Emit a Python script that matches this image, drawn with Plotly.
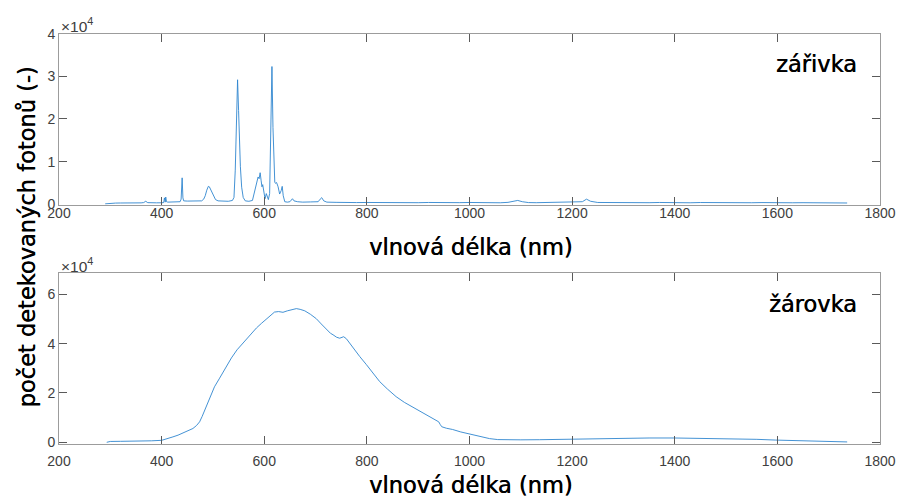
import plotly.graph_objects as go

# ---- data: fluorescent lamp (zářivka) ----
zar_nm = [290, 300, 310, 320, 330, 340, 350, 360, 365, 369, 373, 380, 390, 400, 404,
          405.5, 407, 408, 409.5, 412, 420, 430, 436, 438, 440, 441.5, 443, 450, 460,
          470, 478, 482, 485, 488, 491, 493, 496, 499, 502, 505, 510, 520, 530, 538,
          541, 543.5, 546, 548, 550, 551.5, 553.5, 556, 559, 563, 570, 577, 580, 583,
          586, 588, 590, 592, 594, 595.5, 597, 599, 601.5, 604, 606, 608, 610.5, 612.5,
          615, 617, 619, 620.5, 622, 624, 627, 630, 633, 635, 637, 640, 645, 650, 655,
          658, 665, 675, 690, 705, 709, 712, 716, 722, 740, 760, 780, 800, 820, 840,
          860, 880, 900, 920, 940, 960, 980, 1000, 1020, 1040, 1060, 1075, 1085, 1094,
          1103, 1115, 1130, 1150, 1170, 1185, 1195, 1210, 1220, 1228, 1236, 1250, 1270,
          1290, 1310, 1330, 1350, 1370, 1390, 1410, 1430, 1450, 1470, 1490, 1510, 1530,
          1550, 1570, 1590, 1610, 1630, 1650, 1670, 1690, 1710, 1736]
zar_val = [100, 250, 280, 300, 270, 310, 290, 330, 400, 700, 380, 320, 340, 350, 400,
           1500, 500, 1700, 600, 500, 520, 550, 600, 1200, 6200, 1500, 800, 750, 720,
           760, 800, 1200, 2000, 3300, 4200, 4100, 3300, 2500, 1800, 1100, 800, 700, 700, 900,
           1600, 8000, 22000, 29200, 22000, 16000, 8800, 4000, 1600, 800, 700, 900, 2500, 4500,
           5800, 6400, 6000, 7400, 5500, 4100, 4600, 3000, 1300, 2500, 1800, 1100, 2500, 17000,
           32300, 18000, 7500, 5200, 4900, 5100, 4100, 2400, 3200, 4200, 2000, 600, 500, 600, 1300,
           800, 600, 500, 550, 600, 1200, 1550, 800, 500, 450, 500, 400, 420, 380, 430,
           360, 410, 370, 420, 350, 400, 380, 420, 360, 400, 350, 450, 600, 900,
           600, 400, 370, 420, 380, 550, 600, 500, 600, 1200, 700, 420, 380,
           410, 350, 400, 370, 420, 360, 390, 350, 410, 370, 400, 350, 390,
           360, 400, 340, 380, 350, 370, 330, 360, 320, 300]

# ---- data: incandescent bulb (žárovka) ----
zas_nm = [293, 300, 320, 340, 360, 380, 400, 410, 422, 432, 442, 452, 461, 468, 474, 479,
          484, 489, 494, 503, 513, 524, 536, 547, 559, 572, 585, 595, 604, 612, 620, 628,
          636.5, 645, 655, 662.6, 670, 679, 690, 701.5, 711, 721, 729, 734, 741, 747,
          754.7, 760, 766, 776, 786, 799, 812, 825, 840, 857, 873, 890, 906, 922, 933,
          940, 943, 946, 955, 967, 983, 1000, 1020, 1039, 1055, 1071, 1100, 1136, 1170,
          1201, 1215, 1233, 1260, 1300, 1350, 1400, 1450, 1500, 1531, 1560, 1597, 1640,
          1680, 1710, 1736]
zas_val = [0, 350, 400, 420, 450, 600, 800, 1300, 2200, 2900, 3800, 4600, 5600, 6800, 8300, 10500,
           13000, 15800, 18500, 22500, 26000, 30000, 34200, 37500, 40300, 43500, 46400, 48300,
           49800, 51500, 52800, 53000, 52700, 53300, 53900, 54200, 53900, 53300, 51900, 50100,
           48000, 45700, 44200, 43600, 42600, 42200, 42800, 42000, 40300, 37600, 34800, 31500,
           27800, 24600, 21600, 18500, 16200, 14200, 12400, 10600, 9300, 8300, 7200, 6300,
           5700, 5200, 4200, 3300, 2300, 1500, 1100, 1000, 1000, 1050, 1150, 1250, 1500, 1600,
           1650, 1700, 1750, 1750, 1650, 1550, 1450, 1200, 900, 650, 450, 300, 150]

x_ticks = [200, 400, 600, 800, 1000, 1200, 1400, 1600, 1800]
top_yticks = [0, 10000, 20000, 30000, 40000]
top_ytext = ["0", "1", "2", "3", "4"]
bot_yticks = [0, 20000, 40000, 60000]
bot_ytext = ["0", "2", "4", "6"]

LINE = "#2f86cf"
AX = "#9c9c9c"
TICKC = "#5a5a5a"
LBL = "#404040"
TFONT = "DejaVu Sans"
NFONT = "Liberation Sans, Arial, sans-serif"
TSIZE = 22.5

fig = go.Figure()
fig.add_trace(go.Scatter(x=zar_nm, y=zar_val, mode="lines",
                         line=dict(color=LINE, width=0.9), xaxis="x", yaxis="y"))
fig.add_trace(go.Scatter(x=zas_nm, y=zas_val, mode="lines",
                         line=dict(color=LINE, width=0.9), xaxis="x2", yaxis="y2"))

xdom = [59 / 899, 880 / 899]
axcommon = dict(showline=True, linecolor=AX, linewidth=1, mirror="ticks",
                ticks="inside", ticklen=8, tickcolor=TICKC, tickwidth=1,
                showgrid=False, zeroline=False, automargin=False,
                tickfont=dict(family=NFONT, size=14, color=LBL))

fig.update_layout(
    width=899, height=498,
    margin=dict(l=0, r=0, t=0, b=0),
    paper_bgcolor="white", plot_bgcolor="white",
    showlegend=False,
    xaxis=dict(domain=xdom, range=[200, 1800], tickvals=x_ticks, anchor="y",
               ticklabelstandoff=-5, **axcommon),
    yaxis=dict(domain=[1 - 204.7 / 498, 1 - 33.7 / 498], range=[-100, 40000],
               tickvals=top_yticks, ticktext=top_ytext, anchor="x", **axcommon),
    xaxis2=dict(domain=xdom, range=[200, 1800], tickvals=x_ticks, anchor="y2",
                ticklabelstandoff=4, **axcommon),
    yaxis2=dict(domain=[1 - 444.3 / 498, 1 - 272.7 / 498], range=[-810, 68760],
                tickvals=bot_yticks, ticktext=bot_ytext, anchor="x2", **axcommon),
)

tfont = dict(family=TFONT, size=TSIZE, color="black", shadow="0.5px 0 0 #000")
ann = []
# x-axis titles
for yc in [247, 484.5]:
    ann.append(dict(text="vlnová délka (nm)", x=471 / 899, y=1 - yc / 498,
                    xref="paper", yref="paper", xanchor="center", yanchor="middle",
                    showarrow=False, font=tfont))
# y-axis title
ann.append(dict(text="počet detekovaných fotonů (-)", x=27 / 899, y=1 - 237.5 / 498,
                xref="paper", yref="paper", xanchor="center", yanchor="middle",
                textangle=-90, showarrow=False, font=tfont))
# panel labels
ann.append(dict(text="zářivka", x=859 / 899, y=1 - 64.4 / 498, xref="paper", yref="paper",
                xanchor="right", yanchor="middle", showarrow=False, font=tfont))
ann.append(dict(text="žárovka", x=859 / 899, y=1 - 304 / 498, xref="paper", yref="paper",
                xanchor="right", yanchor="middle", showarrow=False, font=tfont))
# exponent labels
for yc in [25, 265]:
    ann.append(dict(text="×10<sup>4</sup>", x=59 / 899, y=1 - yc / 498,
                    xref="paper", yref="paper", xanchor="left", yanchor="middle",
                    showarrow=False, font=dict(family=NFONT, size=15.5, color=LBL)))
fig.update_layout(annotations=ann)

fig.write_html("out.html")
